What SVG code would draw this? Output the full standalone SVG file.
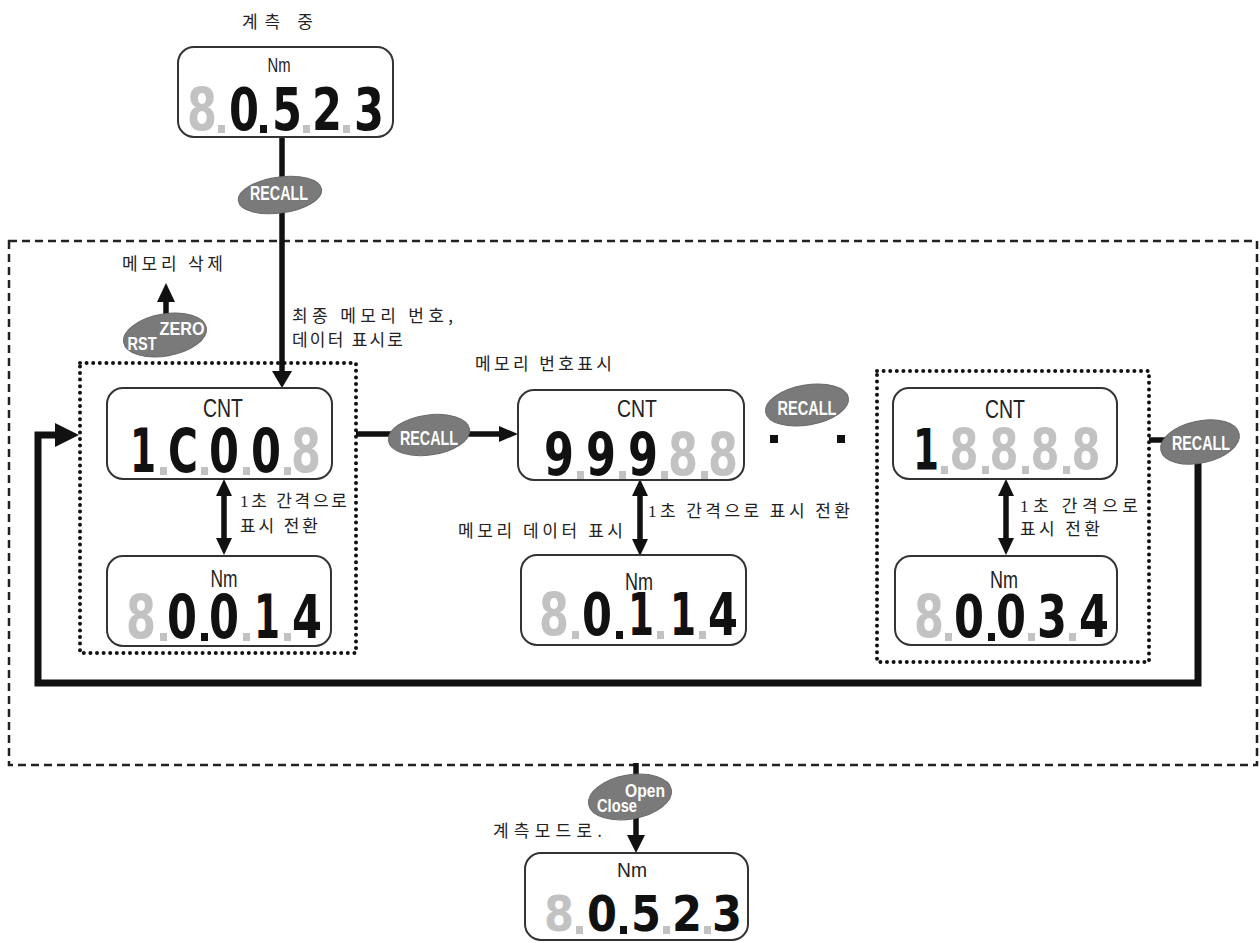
<svg xmlns="http://www.w3.org/2000/svg" width="1260" height="943" viewBox="0 0 1260 943">
<style>
.box{fill:#fff;stroke:#333;stroke-width:2}
.g8{fill:#c2c2c2;font-family:"DejaVu Sans",sans-serif;font-weight:bold;text-anchor:middle}
.dg{fill:#111;font-family:"DejaVu Sans",sans-serif;font-weight:bold;text-anchor:middle}
.dp{fill:#c2c2c2}
.dpk{fill:#111}
.lbl{fill:#222;font-family:"Liberation Sans Narrow","Liberation Sans",Arial,sans-serif;text-anchor:middle}
.kr{fill:#222;font-family:"Noto Sans CJK KR","Noto Sans",sans-serif;font-size:17px}
.one{font-family:"Liberation Serif",serif}
.btn{fill:#7a7a7a;stroke:#6a6a6a;stroke-width:1}
.bt{fill:#fff;font-family:"Liberation Sans Narrow","Liberation Sans",Arial,sans-serif;font-weight:bold;text-anchor:middle}
.ln{fill:none;stroke:#111;stroke-width:5.5}
.ah{fill:#111}
.dash{fill:none;stroke:#222;stroke-width:2.5;stroke-dasharray:8 5}
.dot{fill:none;stroke:#111;stroke-width:4;stroke-dasharray:0 6.6;stroke-linecap:round}
</style>

<!-- frames -->
<rect class="dash" x="9" y="241" width="1248" height="524"/>
<rect class="dot" x="80" y="363" width="276" height="290"/>
<rect class="dot" x="877" y="371" width="272" height="291"/>

<!-- connectors -->
<g id="connectors">
  <path class="ln" d="M282,137 V372"/>
  <polygon class="ah" points="272,371 292,371 282,388"/>
  <path class="ln" d="M166,356 V300"/>
  <polygon class="ah" points="157,302 175,302 166,283"/>
  <path class="ln" d="M356,434 H500"/>
  <polygon class="ah" points="499,426 499,442 518,434"/>
  <path class="ln" d="M1149,440 H1170"/>
  <path class="ln" d="M1198,455 V683 H38 V435 H57" style="stroke-width:7"/>
  <polygon class="ah" points="55,423 55,447 79,435"/>
  <path class="ln" d="M224,494 V540"/>
  <polygon class="ah" points="216,496 232,496 224,479"/>
  <polygon class="ah" points="216,538 232,538 224,555"/>
  <path class="ln" d="M640,494 V541"/>
  <polygon class="ah" points="632,496 648,496 640,479"/>
  <polygon class="ah" points="632,539 648,539 640,556"/>
  <path class="ln" d="M1006,494 V540"/>
  <polygon class="ah" points="998,496 1014,496 1006,479"/>
  <polygon class="ah" points="998,538 1014,538 1006,555"/>
  <path class="ln" d="M636,763 V837"/>
  <polygon class="ah" points="627,835 645,835 636,853"/>
  <rect x="770" y="435" width="8" height="8" fill="#111"/>
  <rect x="837" y="435" width="8" height="8" fill="#111"/>
</g>

<!-- buttons -->
<g id="btn-recall-top">
  <ellipse class="btn" cx="280" cy="195" rx="42" ry="18" transform="rotate(-8 280 195)"/>
  <text class="bt" x="279" y="200" font-size="20" textLength="58" lengthAdjust="spacingAndGlyphs">RECALL</text>
</g>
<g id="btn-rstzero">
  <ellipse class="btn" cx="165" cy="335" rx="42" ry="21" transform="rotate(-10 165 335)"/>
  <text class="bt" x="182" y="335" font-size="19" textLength="45" lengthAdjust="spacingAndGlyphs">ZERO</text>
  <text class="bt" x="142" y="350" font-size="19" textLength="29" lengthAdjust="spacingAndGlyphs">RST</text>
</g>
<g id="btn-recall-1">
  <ellipse class="btn" cx="429" cy="435" rx="41" ry="20" transform="rotate(-8 429 435)"/>
  <text class="bt" x="429" y="445" font-size="20" textLength="58" lengthAdjust="spacingAndGlyphs">RECALL</text>
</g>
<g id="btn-recall-2">
  <ellipse class="btn" cx="807" cy="405" rx="42" ry="20" transform="rotate(-10 807 405)"/>
  <text class="bt" x="807" y="415" font-size="20" textLength="59" lengthAdjust="spacingAndGlyphs">RECALL</text>
</g>
<g id="btn-recall-3">
  <ellipse class="btn" cx="1200" cy="442" rx="40" ry="21" transform="rotate(-12 1200 442)"/>
  <text class="bt" x="1201" y="450" font-size="20" textLength="58" lengthAdjust="spacingAndGlyphs">RECALL</text>
</g>
<g id="btn-openclose">
  <ellipse class="btn" cx="630" cy="797" rx="42" ry="22" transform="rotate(-10 630 797)"/>
  <text class="bt" x="645" y="797" font-size="18" textLength="40" lengthAdjust="spacingAndGlyphs">Open</text>
  <text class="bt" x="617" y="812" font-size="18" textLength="40" lengthAdjust="spacingAndGlyphs">Close</text>
</g>

<!-- labels -->
<text class="kr" x="242" y="28" font-size="18" textLength="71" lengthAdjust="spacing">계측 중</text>
<text class="kr" x="122" y="270" textLength="101" lengthAdjust="spacing">메모리 삭제</text>
<text class="kr" x="292" y="322" textLength="161" lengthAdjust="spacing">최종 메모리 번호,</text>
<text class="kr" x="292" y="346" textLength="111" lengthAdjust="spacing">데이터 표시로</text>
<text class="kr" x="475" y="370" textLength="137" lengthAdjust="spacing">메모리 번호표시</text>
<text class="kr" x="240" y="507" textLength="107" lengthAdjust="spacing"><tspan class="one">1</tspan>초 간격으로</text>
<text class="kr" x="240" y="532" textLength="78" lengthAdjust="spacing">표시 전환</text>
<text class="kr" x="648" y="517" textLength="202" lengthAdjust="spacing"><tspan class="one">1</tspan>초 간격으로 표시 전환</text>
<text class="kr" x="458" y="537" textLength="165" lengthAdjust="spacing">메모리 데이터 표시</text>
<text class="kr" x="1020" y="512" textLength="118" lengthAdjust="spacing"><tspan class="one">1</tspan>초  간격으로</text>
<text class="kr" x="1020" y="535" textLength="80" lengthAdjust="spacing">표시 전환</text>
<text class="kr" x="493" y="837" textLength="109" lengthAdjust="spacing">계측모드로.</text>

<!-- top display -->
<g id="disp-top">
  <rect class="box" x="178" y="47" width="215" height="90" rx="16"/>
  <text class="lbl" x="279" y="72" font-size="21" textLength="23" lengthAdjust="spacingAndGlyphs">Nm</text>
  <g font-size="59">
    <text class="g8" x="202" y="130" textLength="30" lengthAdjust="spacingAndGlyphs">8</text>
    <text class="dg" x="244" y="130" textLength="30" lengthAdjust="spacingAndGlyphs">0</text>
    <text class="dg" x="287" y="130" textLength="30" lengthAdjust="spacingAndGlyphs">5</text>
    <text class="dg" x="327" y="130" textLength="30" lengthAdjust="spacingAndGlyphs">2</text>
    <text class="dg" x="369" y="130" textLength="30" lengthAdjust="spacingAndGlyphs">3</text>
  </g>
  <rect class="dp" x="218" y="125" width="7" height="8"/>
  <rect class="dpk" x="260" y="125" width="7" height="8"/>
  <rect class="dp" x="303" y="125" width="7" height="8"/>
  <rect class="dp" x="343" y="125" width="7" height="8"/>
</g>

<!-- CNT box 1 -->
<g id="disp-cnt1">
  <rect class="box" x="107" y="388" width="225" height="91" rx="16"/>
  <text class="lbl" x="223" y="417" font-size="26" textLength="40" lengthAdjust="spacingAndGlyphs">CNT</text>
  <g font-size="61">
    <text class="dg" x="143" y="472" textLength="26" lengthAdjust="spacingAndGlyphs">1</text>
    <text class="dg" x="183" y="472" textLength="30" lengthAdjust="spacingAndGlyphs">C</text>
    <text class="dg" x="224" y="472" textLength="30" lengthAdjust="spacingAndGlyphs">0</text>
    <text class="dg" x="266" y="472" textLength="30" lengthAdjust="spacingAndGlyphs">0</text>
    <text class="g8" x="306" y="472" textLength="30" lengthAdjust="spacingAndGlyphs">8</text>
  </g>
  <rect class="dp" x="160" y="467" width="7" height="8"/>
  <rect class="dp" x="201" y="467" width="7" height="8"/>
  <rect class="dp" x="243" y="467" width="7" height="8"/>
  <rect class="dp" x="284" y="467" width="7" height="8"/>
</g>

<!-- Nm box 1 -->
<g id="disp-nm1">
  <rect class="box" x="107" y="556" width="224" height="90" rx="16"/>
  <text class="lbl" x="224" y="587" font-size="23" textLength="27" lengthAdjust="spacingAndGlyphs">Nm</text>
  <g font-size="61">
    <text class="g8" x="141" y="638" textLength="30" lengthAdjust="spacingAndGlyphs">8</text>
    <text class="dg" x="182" y="638" textLength="30" lengthAdjust="spacingAndGlyphs">0</text>
    <text class="dg" x="224" y="638" textLength="30" lengthAdjust="spacingAndGlyphs">0</text>
    <text class="dg" x="267" y="638" textLength="26" lengthAdjust="spacingAndGlyphs">1</text>
    <text class="dg" x="307" y="638" textLength="30" lengthAdjust="spacingAndGlyphs">4</text>
  </g>
  <rect class="dp" x="160" y="633" width="7" height="8"/>
  <rect class="dpk" x="201" y="633" width="7" height="8"/>
  <rect class="dp" x="243" y="633" width="7" height="8"/>
  <rect class="dp" x="284" y="633" width="7" height="8"/>
</g>

<!-- CNT box 2 -->
<g id="disp-cnt2">
  <rect class="box" x="518" y="390" width="226" height="90" rx="16"/>
  <text class="lbl" x="637" y="417" font-size="24" textLength="40" lengthAdjust="spacingAndGlyphs">CNT</text>
  <g font-size="59">
    <text class="dg" x="559" y="475" textLength="30" lengthAdjust="spacingAndGlyphs">9</text>
    <text class="dg" x="601" y="475" textLength="30" lengthAdjust="spacingAndGlyphs">9</text>
    <text class="dg" x="643" y="475" textLength="30" lengthAdjust="spacingAndGlyphs">9</text>
    <text class="g8" x="683" y="475" textLength="30" lengthAdjust="spacingAndGlyphs">8</text>
    <text class="g8" x="723" y="475" textLength="30" lengthAdjust="spacingAndGlyphs">8</text>
  </g>
  <rect class="dp" x="577" y="471" width="7" height="8"/>
  <rect class="dp" x="619" y="471" width="7" height="8"/>
  <rect class="dp" x="661" y="471" width="7" height="8"/>
  <rect class="dp" x="701" y="471" width="7" height="8"/>
</g>

<!-- Nm box 2 -->
<g id="disp-nm2">
  <rect class="box" x="521" y="555" width="225" height="90" rx="16"/>
  <text class="lbl" x="639" y="590" font-size="23" textLength="28" lengthAdjust="spacingAndGlyphs">Nm</text>
  <g font-size="59">
    <text class="g8" x="554" y="635" textLength="30" lengthAdjust="spacingAndGlyphs">8</text>
    <text class="dg" x="597" y="635" textLength="30" lengthAdjust="spacingAndGlyphs">0</text>
    <text class="dg" x="641" y="635" textLength="26" lengthAdjust="spacingAndGlyphs">1</text>
    <text class="dg" x="683" y="635" textLength="26" lengthAdjust="spacingAndGlyphs">1</text>
    <text class="dg" x="723" y="635" textLength="30" lengthAdjust="spacingAndGlyphs">4</text>
  </g>
  <rect class="dp" x="572" y="631" width="7" height="8"/>
  <rect class="dpk" x="616" y="631" width="7" height="8"/>
  <rect class="dp" x="657" y="631" width="7" height="8"/>
  <rect class="dp" x="699" y="631" width="7" height="8"/>
</g>

<!-- CNT box 3 -->
<g id="disp-cnt3">
  <rect class="box" x="893" y="388" width="224" height="91" rx="16"/>
  <text class="lbl" x="1005" y="418" font-size="25" textLength="40" lengthAdjust="spacingAndGlyphs">CNT</text>
  <g font-size="57">
    <text class="dg" x="926" y="470" textLength="26" lengthAdjust="spacingAndGlyphs">1</text>
    <text class="g8" x="964" y="470" textLength="29" lengthAdjust="spacingAndGlyphs">8</text>
    <text class="g8" x="1004" y="470" textLength="29" lengthAdjust="spacingAndGlyphs">8</text>
    <text class="g8" x="1045" y="470" textLength="29" lengthAdjust="spacingAndGlyphs">8</text>
    <text class="g8" x="1086" y="470" textLength="29" lengthAdjust="spacingAndGlyphs">8</text>
  </g>
  <rect class="dp" x="941" y="466" width="7" height="8"/>
  <rect class="dp" x="982" y="466" width="7" height="8"/>
  <rect class="dp" x="1022" y="466" width="7" height="8"/>
  <rect class="dp" x="1063" y="466" width="7" height="8"/>
</g>

<!-- Nm box 3 -->
<g id="disp-nm3">
  <rect class="box" x="895" y="556" width="222" height="89" rx="16"/>
  <text class="lbl" x="1004" y="588" font-size="23" textLength="28" lengthAdjust="spacingAndGlyphs">Nm</text>
  <g font-size="59">
    <text class="g8" x="929" y="637" textLength="30" lengthAdjust="spacingAndGlyphs">8</text>
    <text class="dg" x="969" y="637" textLength="30" lengthAdjust="spacingAndGlyphs">0</text>
    <text class="dg" x="1011" y="637" textLength="30" lengthAdjust="spacingAndGlyphs">0</text>
    <text class="dg" x="1052" y="637" textLength="30" lengthAdjust="spacingAndGlyphs">3</text>
    <text class="dg" x="1094" y="637" textLength="30" lengthAdjust="spacingAndGlyphs">4</text>
  </g>
  <rect class="dp" x="945" y="633" width="7" height="8"/>
  <rect class="dpk" x="988" y="633" width="7" height="8"/>
  <rect class="dp" x="1028" y="633" width="7" height="8"/>
  <rect class="dp" x="1069" y="633" width="7" height="8"/>
</g>

<!-- bottom display -->
<g id="disp-bottom">
  <rect class="box" x="525" y="853" width="223" height="87" rx="16"/>
  <text class="lbl" x="632" y="877" font-size="20" textLength="30" lengthAdjust="spacingAndGlyphs">Nm</text>
  <g font-size="50">
    <text class="g8" x="559" y="931" textLength="30" lengthAdjust="spacingAndGlyphs">8</text>
    <text class="dg" x="602" y="931" textLength="30" lengthAdjust="spacingAndGlyphs">0</text>
    <text class="dg" x="646" y="931" textLength="30" lengthAdjust="spacingAndGlyphs">5</text>
    <text class="dg" x="687" y="931" textLength="30" lengthAdjust="spacingAndGlyphs">2</text>
    <text class="dg" x="727" y="931" textLength="30" lengthAdjust="spacingAndGlyphs">3</text>
  </g>
  <rect class="dp" x="576" y="926" width="7" height="8"/>
  <rect class="dpk" x="620" y="926" width="7" height="8"/>
  <rect class="dp" x="663" y="926" width="7" height="8"/>
  <rect class="dp" x="704" y="926" width="7" height="8"/>
</g>
</svg>
